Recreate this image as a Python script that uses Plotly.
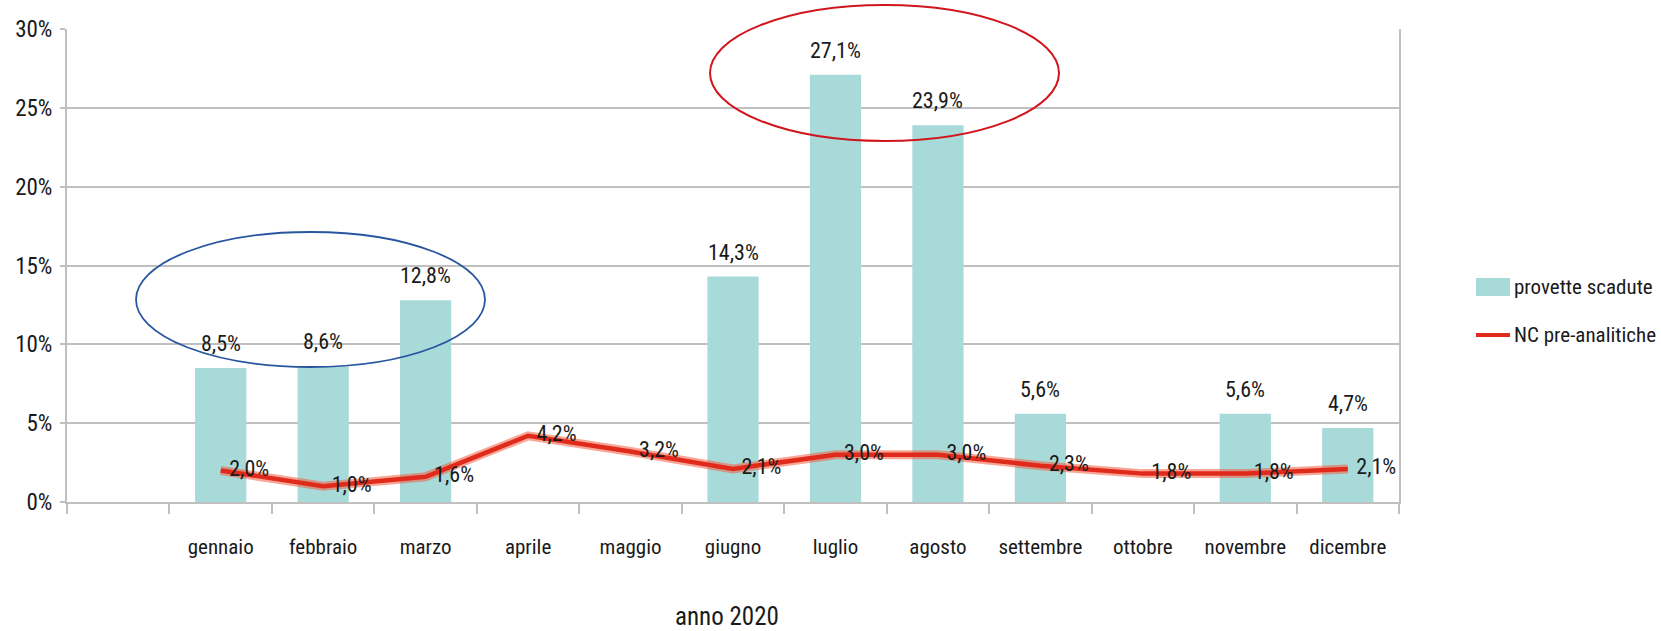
import plotly.graph_objects as go

# ---- data ----
months = ["gennaio", "febbraio", "marzo", "aprile", "maggio", "giugno",
          "luglio", "agosto", "settembre", "ottobre", "novembre", "dicembre"]
provette_scadute = [8.5, 8.6, 12.8, None, None, 14.3, 27.1, 23.9, 5.6, None, 5.6, 4.7]
nc_pre_analitiche = [2.0, 1.0, 1.6, 4.2, 3.2, 2.1, 3.0, 3.0, 2.3, 1.8, 1.8, 2.1]
y_ticks = [0, 5, 10, 15, 20, 25, 30]
y_tick_labels = [f"{v}%" for v in y_ticks]
categories = [" "] + months  # leading empty slot on the axis

FONT = "Roboto Condensed, Liberation Sans Narrow, Arial Narrow, sans-serif"
TXT = "#1a1a1a"
BAR = "#a8dada"
RED = "#e02a1b"
GRID = "#c0c0c0"


def fmt(v):
    return f"{v:.1f}".replace(".", ",") + "%"


def fnt(size):
    return dict(family=FONT, size=size, color=TXT)


fig = go.Figure()

bx = [m for m, v in zip(months, provette_scadute) if v is not None]
by = [v for v in provette_scadute if v is not None]

fig.add_trace(go.Bar(
    x=bx, y=by, name="provette scadute", marker=dict(color=BAR, line=dict(width=0)),
    width=0.5, showlegend=False, hoverinfo="skip",
))

# halo of the red line
fig.add_trace(go.Scatter(
    x=months, y=nc_pre_analitiche, mode="lines",
    line=dict(color="rgba(242,95,65,0.55)", width=9),
    showlegend=False, hoverinfo="skip",
))
fig.add_trace(go.Scatter(
    x=months, y=nc_pre_analitiche, mode="lines+markers+text", name="NC pre-analitiche",
    line=dict(color=RED, width=4.5),
    marker=dict(size=12, color="rgba(0,0,0,0)"),
    text=[fmt(v) for v in nc_pre_analitiche], textposition="middle right",
    textfont=fnt(22),
    showlegend=False, cliponaxis=False,
))

annotations = []
for m, v in zip(bx, by):
    annotations.append(dict(
        x=m, y=v, xref="x", yref="y", text=fmt(v), showarrow=False,
        yanchor="bottom", yshift=10, font=fnt(22),
    ))

# x-axis title
annotations.append(dict(
    x=(727 - 67) / 1332, y=(502 - 616) / 473, xref="paper", yref="paper",
    text="anno 2020", showarrow=False, xanchor="center", yanchor="middle",
    font=fnt(25),
))

# legend (manual)
annotations.append(dict(
    x=(1512 - 67) / 1332, y=(502 - 287) / 473, xref="paper", yref="paper",
    text="provette scadute", showarrow=False, xanchor="left", yanchor="middle",
    font=fnt(21),
))
annotations.append(dict(
    x=(1512 - 67) / 1332, y=(502 - 335) / 473, xref="paper", yref="paper",
    text="NC pre-analitiche", showarrow=False, xanchor="left", yanchor="middle",
    font=fnt(21),
))

shapes = [
    # legend swatches
    dict(type="rect", xref="paper", yref="paper",
         x0=(1476 - 67) / 1332, x1=(1510 - 67) / 1332,
         y0=(502 - 296) / 473, y1=(502 - 278) / 473,
         fillcolor=BAR, line=dict(width=0)),
    dict(type="line", xref="paper", yref="paper",
         x0=(1476 - 67) / 1332, x1=(1510 - 67) / 1332,
         y0=(502 - 335) / 473, y1=(502 - 335) / 473,
         line=dict(color=RED, width=4)),
    # highlight ellipses
    dict(type="circle", xref="paper", yref="paper",
         x0=(136 - 67) / 1332, x1=(485 - 67) / 1332,
         y0=(502 - 367) / 473, y1=(502 - 232) / 473,
         line=dict(color="#2857a0", width=1.8), layer="above"),
    dict(type="circle", xref="paper", yref="paper",
         x0=(710 - 67) / 1332, x1=(1059 - 67) / 1332,
         y0=(502 - 141) / 473, y1=(502 - 5) / 473,
         line=dict(color="#d0161c", width=2), layer="above"),
]

fig.update_layout(
    width=1661, height=631,
    margin=dict(l=67, r=262, t=29, b=129),
    paper_bgcolor="white", plot_bgcolor="white",
    font=fnt(22),
    showlegend=False,
    annotations=annotations,
    shapes=shapes,
    xaxis=dict(
        type="category", categoryorder="array", categoryarray=categories,
        range=[-0.5, 12.5], tickson="boundaries", ticks="outside", ticklen=10,
        tickcolor=GRID, tickwidth=2, showline=True, linecolor=GRID, linewidth=2,
        showgrid=False, tickfont=fnt(21),
        tickangle=0, ticklabelstandoff=25,
    ),
    yaxis=dict(
        range=[0, 30], tickmode="array", tickvals=y_ticks, ticktext=y_tick_labels,
        showgrid=True, gridcolor=GRID, gridwidth=2,
        ticks="outside", ticklen=5, tickcolor=GRID, tickwidth=2,
        showline=True, linecolor=GRID, linewidth=2, mirror=True,
        zeroline=False, tickfont=fnt(23),
        ticklabelstandoff=3,
    ),
)

fig.write_html("out.html")
